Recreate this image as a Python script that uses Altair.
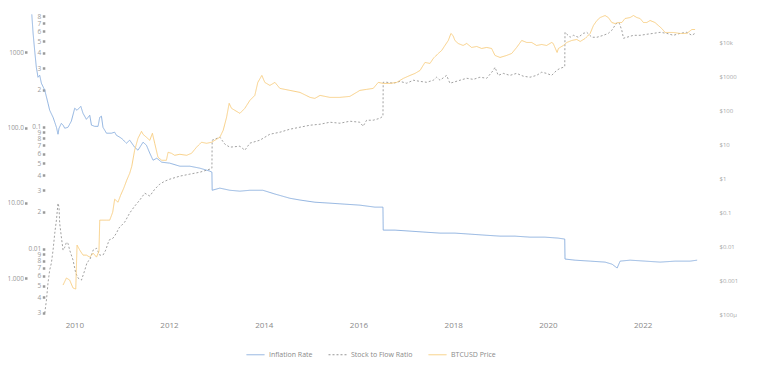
import altair as alt
import pandas as pd

# ---------------- data ----------------
series_names = ["Inflation Rate", "Stock to Flow Ratio", "BTCUSD Price"]

inflation_dates = [
    "2009-02-07", "2009-02-17", "2009-03-01", "2009-03-14", "2009-03-27", "2009-04-09", "2009-04-22",
    "2009-05-18", "2009-06-12", "2009-06-25", "2009-07-21", "2009-08-03", "2009-08-16", "2009-08-28",
    "2009-09-05", "2009-09-23", "2009-10-06", "2009-10-19", "2009-11-13", "2009-12-09", "2010-01-04",
    "2010-01-22", "2010-02-20", "2010-03-09", "2010-04-04", "2010-04-30", "2010-05-13", "2010-06-07",
    "2010-07-03", "2010-07-16", "2010-07-29", "2010-08-10", "2010-09-06", "2010-10-14", "2010-11-08",
    "2010-11-21", "2010-12-17", "2010-12-30", "2011-02-07", "2011-03-04", "2011-04-11", "2011-05-07",
    "2011-06-15", "2011-07-11", "2011-08-06", "2011-08-31", "2011-09-29", "2011-11-06", "2012-01-07",
    "2012-03-25", "2012-06-10", "2012-08-26", "2012-11-11", "2012-11-27", "2012-11-29", "2013-01-27",
    "2013-04-14", "2013-07-01", "2013-09-16", "2013-12-25", "2014-03-28", "2014-07-22", "2014-10-07",
    "2015-01-30", "2015-05-26", "2015-09-18", "2016-01-12", "2016-05-07", "2016-07-08", "2016-07-10",
    "2016-10-09", "2017-02-02", "2017-05-28", "2017-09-21", "2018-01-14", "2018-05-10", "2018-09-02",
    "2018-12-28", "2019-04-22", "2019-08-16", "2019-12-09", "2020-03-19", "2020-05-10", "2020-05-12",
    "2020-07-29", "2020-11-22", "2021-03-17", "2021-05-10", "2021-06-18", "2021-07-11", "2021-09-26",
    "2022-01-20", "2022-05-16", "2022-09-08", "2023-01-02", "2023-02-25",
]
inflation_values = [
    3200, 1790, 1066, 634, 467, 497, 389,
    314, 211, 170, 137, 118, 101, 81.7,
    98.2, 114, 108, 98.2, 101, 122, 181,
    170, 192, 155, 129, 146, 108, 104,
    104, 137, 142, 101, 84.3, 84.3, 86.9,
    79.3, 74.6, 72.3, 62.1, 68.1, 54.9, 50.1,
    64.0, 58.4, 45.7, 36.9, 39.2, 34.7, 33.7,
    30.7, 30.7, 28.9, 26.4, 25.6, 14.7, 15.7,
    14.7, 14.3, 14.7, 14.7, 13.1, 11.5, 10.9,
    10.2, 9.91, 9.61, 9.32, 8.77, 8.77, 4.34,
    4.34, 4.21, 4.08, 3.96, 3.96, 3.84, 3.72,
    3.61, 3.61, 3.50, 3.50, 3.40, 3.30, 1.79,
    1.73, 1.68, 1.63, 1.53, 1.36, 1.68, 1.73,
    1.68, 1.63, 1.68, 1.68, 1.73,
]

s2f_dates = [
    "2009-05-18", "2009-05-31", "2009-06-12", "2009-06-25", "2009-07-08", "2009-07-21", "2009-08-03",
    "2009-08-16", "2009-08-28", "2009-09-05", "2009-09-10", "2009-09-23", "2009-10-06", "2009-10-19",
    "2009-11-01", "2009-11-13", "2009-11-26", "2009-12-22", "2010-01-12", "2010-01-30", "2010-02-25",
    "2010-03-23", "2010-04-10", "2010-04-30", "2010-05-26", "2010-06-21", "2010-07-16", "2010-08-10",
    "2010-08-31", "2010-09-26", "2010-10-26", "2010-11-21", "2010-12-11", "2011-01-24", "2011-03-04",
    "2011-04-11", "2011-05-20", "2011-06-28", "2011-08-06", "2011-09-13", "2011-10-22", "2011-11-29",
    "2012-01-07", "2012-03-25", "2012-06-10", "2012-08-26", "2012-11-11", "2012-11-27", "2012-11-29",
    "2013-01-27", "2013-03-07", "2013-04-14", "2013-07-01", "2013-08-08", "2013-09-16", "2013-12-02",
    "2014-02-17", "2014-05-05", "2014-07-22", "2014-10-07", "2014-12-24", "2015-03-11", "2015-05-26",
    "2015-08-11", "2015-10-27", "2016-01-12", "2016-02-06", "2016-03-04", "2016-04-24", "2016-06-15",
    "2016-07-08", "2016-07-10", "2016-08-06", "2016-09-26", "2016-11-16", "2017-01-07", "2017-02-27",
    "2017-04-20", "2017-06-10", "2017-07-31", "2017-08-26", "2017-09-21", "2017-11-11", "2017-12-06",
    "2018-01-01", "2018-02-22", "2018-04-15", "2018-06-05", "2018-07-26", "2018-09-16", "2018-11-06",
    "2018-11-19", "2018-12-14", "2019-01-22", "2019-03-14", "2019-05-05", "2019-06-25", "2019-08-16",
    "2019-10-06", "2019-11-14", "2019-12-22", "2020-01-30", "2020-03-09", "2020-04-04", "2020-04-29",
    "2020-05-10", "2020-05-12", "2020-06-20", "2020-07-16", "2020-08-23", "2020-10-01", "2020-10-27",
    "2020-12-05", "2021-01-13", "2021-03-04", "2021-04-11", "2021-05-08", "2021-06-02", "2021-06-20",
    "2021-07-05", "2021-07-24", "2021-08-06", "2021-09-01", "2021-10-22", "2021-12-12", "2022-02-02",
    "2022-03-25", "2022-05-16", "2022-07-06", "2022-08-26", "2022-10-17", "2022-12-07", "2023-01-15",
    "2023-02-09",
]
s2f_values = [
    0.00298, 0.00381, 0.00525, 0.00670, 0.00764, 0.00976, 0.0134,
    0.0172, 0.0236, 0.0219, 0.0162, 0.0125, 0.00976, 0.0103,
    0.0113, 0.0111, 0.00976, 0.00809, 0.00633, 0.00576, 0.00555,
    0.00670, 0.00779, 0.00809, 0.00976, 0.0101, 0.00888, 0.00888,
    0.00976, 0.0118, 0.0122, 0.0134, 0.0148, 0.0165, 0.0196,
    0.0223, 0.0250, 0.0285, 0.0270, 0.0307, 0.0338, 0.0357,
    0.0371, 0.0393, 0.0408, 0.0423, 0.0448, 0.0456, 0.0773,
    0.0818, 0.0717, 0.0678, 0.0690, 0.0640, 0.0731, 0.0773,
    0.0865, 0.0898, 0.0951, 0.0987, 0.1025, 0.1044, 0.1084,
    0.1064, 0.1105, 0.1084, 0.1005, 0.1126, 0.1126, 0.1169,
    0.1214, 0.230, 0.230, 0.226, 0.234, 0.226, 0.239,
    0.234, 0.230, 0.239, 0.253, 0.239, 0.262, 0.226,
    0.230, 0.239, 0.248, 0.243, 0.253, 0.248, 0.288,
    0.305, 0.262, 0.272, 0.262, 0.272, 0.258, 0.253,
    0.262, 0.278, 0.272, 0.262, 0.288, 0.299, 0.305,
    0.311, 0.589, 0.537, 0.557, 0.537, 0.578, 0.589,
    0.537, 0.537, 0.557, 0.578, 0.612, 0.673, 0.711,
    0.698, 0.612, 0.527, 0.537, 0.557, 0.557, 0.568,
    0.578, 0.589, 0.578, 0.557, 0.578, 0.589, 0.557,
    0.578,
]

price_dates = [
    "2009-10-06", "2009-11-01", "2009-11-26", "2009-12-22", "2010-01-12", "2010-01-22", "2010-02-12",
    "2010-03-09", "2010-04-04", "2010-04-30", "2010-05-26", "2010-06-21", "2010-07-10", "2010-07-16",
    "2010-08-10", "2010-09-06", "2010-10-01", "2010-10-24", "2010-11-08", "2010-12-04", "2010-12-24",
    "2011-01-17", "2011-02-09", "2011-03-04", "2011-03-20", "2011-04-11", "2011-05-07", "2011-06-03",
    "2011-06-15", "2011-07-11", "2011-08-06", "2011-08-26", "2011-09-13", "2011-10-08", "2011-11-06",
    "2011-12-12", "2011-12-25", "2012-01-20", "2012-02-14", "2012-03-25", "2012-05-16", "2012-06-23",
    "2012-07-31", "2012-09-08", "2012-10-17", "2012-11-24", "2012-12-19", "2013-01-27", "2013-02-22",
    "2013-03-20", "2013-04-09", "2013-04-27", "2013-05-23", "2013-07-01", "2013-08-08", "2013-09-16",
    "2013-10-24", "2013-11-16", "2013-12-17", "2014-01-09", "2014-02-17", "2014-03-28", "2014-05-05",
    "2014-07-22", "2014-10-07", "2014-12-24", "2015-01-30", "2015-03-11", "2015-05-26", "2015-08-11",
    "2015-10-27", "2016-01-12", "2016-03-04", "2016-04-24", "2016-06-02", "2016-07-10", "2016-08-31",
    "2016-10-22", "2016-12-12", "2017-02-02", "2017-03-12", "2017-04-20", "2017-05-28", "2017-07-06",
    "2017-07-31", "2017-09-08", "2017-10-04", "2017-10-29", "2017-11-24", "2017-12-14", "2017-12-30",
    "2018-01-14", "2018-02-08", "2018-03-18", "2018-04-15", "2018-05-23", "2018-07-01", "2018-08-08",
    "2018-09-16", "2018-10-24", "2018-11-19", "2018-12-28", "2019-02-17", "2019-03-28", "2019-05-05",
    "2019-06-13", "2019-07-22", "2019-08-29", "2019-10-06", "2019-11-14", "2019-12-22", "2020-01-30",
    "2020-02-11", "2020-03-12", "2020-03-22", "2020-04-29", "2020-05-26", "2020-07-03", "2020-08-11",
    "2020-09-06", "2020-10-14", "2020-11-22", "2020-12-17", "2021-01-13", "2021-02-07", "2021-03-17",
    "2021-04-11", "2021-05-08", "2021-06-02", "2021-06-28", "2021-07-24", "2021-08-18", "2021-09-26",
    "2021-10-22", "2021-11-17", "2021-12-12", "2022-01-07", "2022-02-02", "2022-02-27", "2022-04-06",
    "2022-05-02", "2022-05-28", "2022-06-23", "2022-07-31", "2022-08-26", "2022-10-17", "2022-12-07",
    "2023-01-15", "2023-02-09",
]
price_values = [
    0.000713, 0.00115, 0.00100, 0.000582, 0.000543, 0.0107, 0.00762,
    0.00543, 0.00543, 0.00474, 0.00622, 0.00474, 0.00713, 0.0582,
    0.0582, 0.0582, 0.0582, 0.100, 0.241, 0.197, 0.316,
    0.508, 0.873, 1.40, 2.25, 6.66, 15.0, 24.1,
    19.7, 16.1, 13.1, 21.1, 10.7, 4.15, 3.38,
    3.38, 5.82, 5.43, 4.74, 5.08, 4.74, 5.43,
    8.16, 11.5, 10.7, 11.5, 13.1, 16.1, 25.8,
    62.2, 161, 115, 100, 81.6, 115, 197,
    276, 666, 1070, 666, 543, 666, 444,
    387, 338, 241, 225, 276, 241, 241,
    258, 387, 415, 444, 666, 622, 622,
    666, 873, 1070, 1225, 1500, 2582, 2410,
    3383, 4745, 5821, 8160, 11450, 18400, 16070,
    11450, 9350, 8160, 9350, 7130, 7630, 6660,
    7130, 6660, 4150, 3620, 4150, 4745, 7130,
    11450, 10000, 10000, 8160, 8730, 8160, 10000,
    9350, 5080, 6660, 8160, 10000, 11450, 12250,
    10700, 13120, 18400, 31600, 44400, 54300, 62200,
    54300, 38700, 36200, 38700, 38700, 50800, 54300,
    62200, 54300, 50800, 38700, 38700, 44400, 38700,
    31600, 25800, 19700, 19700, 19700, 18400, 18400,
    24100, 24100,
]

x_tick_years = [2010, 2012, 2014, 2016, 2018, 2020, 2022]
inflation_ticks = [1, 10, 100, 1000]
s2f_ticks = [0.003, 0.004, 0.005, 0.006, 0.007, 0.008, 0.009,
             0.01, 0.02, 0.03, 0.04, 0.05, 0.06, 0.07, 0.08, 0.09,
             0.1, 0.2, 0.3, 0.4, 0.5, 0.6, 0.7, 0.8]
price_ticks = [0.0001, 0.001, 0.01, 0.1, 1, 10, 100, 1000, 10000]

colors = ["#86acdc", "#969696", "#f7cb7a"]

# ---------------- table ----------------
df = pd.concat([
    pd.DataFrame({"date": inflation_dates, "value": inflation_values, "series": series_names[0]}),
    pd.DataFrame({"date": s2f_dates, "value": s2f_values, "series": series_names[1]}),
    pd.DataFrame({"date": price_dates, "value": price_values, "series": series_names[2]}),
], ignore_index=True)

FONT = "Open Sans"

x_enc = alt.X(
    "date:T",
    scale=alt.Scale(domain=[alt.DateTime(year=2009, month=1, date=1),
                            alt.DateTime(year=2023, month=3, date=19)]),
    axis=alt.Axis(
        values=[alt.DateTime(year=y, month=1, date=1) for y in x_tick_years],
        format="%Y", title=None, grid=False, domain=False, ticks=False,
        labelFont=FONT, labelFontSize=8, labelColor="#8a8a8a", labelPadding=7,
    ),
)

legend_kw = dict(
    title=None, orient="none", legendX=219, legendY=331, direction="horizontal",
    symbolType="stroke", symbolSize=324, symbolStrokeWidth=1, labelOffset=4,
    columnPadding=13, padding=0, labelFont=FONT, labelFontSize=7, labelColor="#8a8a8a",
)
color_enc = alt.Color("series:N", scale=alt.Scale(domain=series_names, range=colors),
                      legend=alt.Legend(**legend_kw))
dash_enc = alt.StrokeDash("series:N",
                          scale=alt.Scale(domain=series_names, range=[[1, 0], [2, 2], [1, 0]]),
                          legend=alt.Legend(**legend_kw))

base = alt.Chart(df)

infl_layer = base.transform_filter(alt.datum.series == series_names[0]).mark_line(strokeWidth=0.9).encode(
    x=x_enc,
    y=alt.Y("value:Q", scale=alt.Scale(type="log", domain=[0.333, 3240], nice=False),
            axis=alt.Axis(orient="left", offset=0, values=inflation_ticks, format=".4r", title=None,
                          grid=False, domain=False, tickSize=2.5, tickWidth=2.5, tickColor="#9a9a9a",
                          labelPadding=1, labelFont=FONT, labelFontSize=6.5, labelColor="#9a9a9a",
                          labelOverlap=False)),
    color=color_enc, strokeDash=dash_enc,
)

s2f_label = ("(round(datum.value / pow(10, floor(log(datum.value) / LN10 + 1e-9))) == 1) ? "
             "format(datum.value, '~g') : "
             "format(round(datum.value / pow(10, floor(log(datum.value) / LN10 + 1e-9))), 'd')")

s2f_layer = base.transform_filter(alt.datum.series == series_names[1]).mark_line(strokeWidth=0.9).encode(
    x=x_enc,
    y=alt.Y("value:Q", scale=alt.Scale(type="log", domain=[0.00293, 0.832], nice=False),
            axis=alt.Axis(orient="left", offset=-17.8, values=s2f_ticks, labelExpr=s2f_label, title=None,
                          grid=False, domain=False, tickSize=2.5, tickWidth=2.5, tickColor="#9a9a9a",
                          labelPadding=1.5, labelFont=FONT, labelFontSize=6.5, labelColor="#9a9a9a",
                          labelOverlap=False)),
    color=color_enc, strokeDash=dash_enc,
)

price_label = ("datum.value >= 10000 ? '$' + format(datum.value / 1000, '~g') + 'k' : "
               "datum.value < 0.001 ? '$' + format(round(datum.value * 1000000), 'd') + 'μ' : "
               "'$' + format(datum.value, '~g')")

price_layer = base.transform_filter(alt.datum.series == series_names[2]).mark_line(strokeWidth=0.9).encode(
    x=x_enc,
    y=alt.Y("value:Q", scale=alt.Scale(type="log", domain=[0.0001, 69000], nice=False),
            axis=alt.Axis(orient="right", values=price_ticks, labelExpr=price_label, title=None,
                          grid=False, domain=False, ticks=False, labelPadding=19,
                          labelFont=FONT, labelFontSize=6, labelColor="#a8a8a8", labelOverlap=False)),
    color=color_enc, strokeDash=dash_enc,
)

chart = alt.layer(infl_layer, s2f_layer, price_layer).resolve_scale(
    y="independent", color="shared", strokeDash="shared"
).properties(
    width=673, height=300,
    autosize=alt.AutoSizeParams(type="none"),
    padding={"left": 19, "top": 6, "right": 52, "bottom": 46},
).configure_view(stroke=None)

chart.save("out.html", embed_options={"renderer": "svg", "actions": False})
